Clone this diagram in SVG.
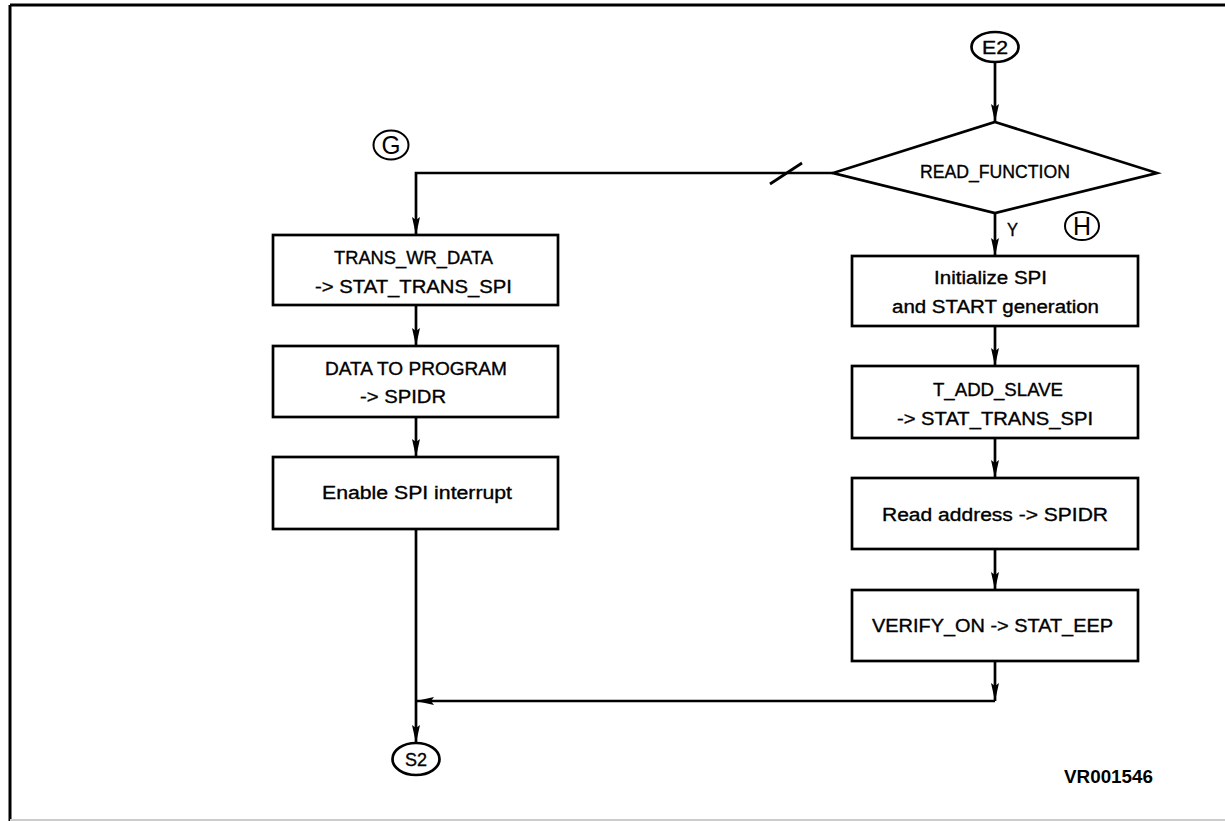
<svg xmlns="http://www.w3.org/2000/svg" width="1225" height="821" viewBox="0 0 1225 821">
<style>
.box{fill:#fff;stroke:#000;stroke-width:2.7}
.ln{fill:none;stroke:#000;stroke-width:2.7}
.t{font-family:"Liberation Sans",Arial,sans-serif;font-size:18px;fill:#000;stroke:#000;stroke-width:0.35}
.big{font-family:"Liberation Sans",Arial,sans-serif;font-size:25px;fill:#000}
.id{font-family:"Liberation Sans",Arial,sans-serif;font-size:18px;font-weight:bold;fill:#000}
</style>
<defs>
<marker id="ah" viewBox="0 0 18 8" refX="18" refY="4" markerWidth="18" markerHeight="8" markerUnits="userSpaceOnUse" orient="auto">
<path d="M0,0 L18,4 L0,8 L3,4 z" fill="#000"/>
</marker>
</defs>
<rect width="1225" height="821" fill="#fff"/>
<g id="border">
<line x1="10" y1="5" x2="1225" y2="5" stroke="#000" stroke-width="3"/>
<line x1="10" y1="5" x2="10" y2="821" stroke="#000" stroke-width="3"/>
<line x1="10" y1="820" x2="1225" y2="820" stroke="#ccc" stroke-width="2"/>
</g>
<g id="connectors">
<path class="ln" d="M995,62 V122" marker-end="url(#ah)"/>
<path class="ln" d="M995,213 V256" marker-end="url(#ah)"/>
<path class="ln" d="M995,326 V366" marker-end="url(#ah)"/>
<path class="ln" d="M995,438 V478" marker-end="url(#ah)"/>
<path class="ln" d="M995,549 V590" marker-end="url(#ah)"/>
<path class="ln" d="M995,661 V701" marker-end="url(#ah)"/>
<path class="ln" d="M995,701 H416" marker-end="url(#ah)"/>
<path class="ln" d="M833,173 H416 V235" marker-end="url(#ah)"/>
<path class="ln" d="M416,305 V346" marker-end="url(#ah)"/>
<path class="ln" d="M416,417 V457" marker-end="url(#ah)"/>
<path class="ln" d="M416,529 V743" marker-end="url(#ah)"/>
<path class="ln" d="M770,184 L802,163" stroke-width="2"/>
<text class="t" x="1007" y="236" textLength="11" lengthAdjust="spacingAndGlyphs">Y</text>
</g>
<g id="E2">
<ellipse cx="995" cy="47" rx="23.5" ry="15" class="box"/>
<text class="t" x="982" y="53.5" textLength="26" lengthAdjust="spacingAndGlyphs">E2</text>
</g>
<g id="READ_FUNCTION">
<polygon class="box" points="995,122 1157,173 995,213 833,173"/>
<text class="t" x="920" y="178" textLength="150" lengthAdjust="spacingAndGlyphs">READ_FUNCTION</text>
</g>
<g id="G">
<ellipse cx="391" cy="145" rx="17.5" ry="14.5" fill="none" stroke="#000" stroke-width="2"/>
<text class="big" x="381.5" y="154" textLength="19" lengthAdjust="spacingAndGlyphs">G</text>
</g>
<g id="H">
<ellipse cx="1082" cy="226" rx="17" ry="14" fill="none" stroke="#000" stroke-width="2"/>
<text class="big" x="1073" y="235" textLength="18" lengthAdjust="spacingAndGlyphs">H</text>
</g>
<g id="init_spi">
<rect class="box" x="852" y="256" width="286" height="70"/>
<text class="t" x="934" y="284" textLength="113" lengthAdjust="spacingAndGlyphs">Initialize SPI</text>
<text class="t" x="892" y="313" textLength="207" lengthAdjust="spacingAndGlyphs">and START generation</text>
</g>
<g id="t_add_slave">
<rect class="box" x="852" y="366" width="286" height="72"/>
<text class="t" x="933" y="396" textLength="130" lengthAdjust="spacingAndGlyphs">T_ADD_SLAVE</text>
<text class="t" x="897" y="425" textLength="196" lengthAdjust="spacingAndGlyphs">-&gt; STAT_TRANS_SPI</text>
</g>
<g id="read_address">
<rect class="box" x="852" y="478" width="286" height="71"/>
<text class="t" x="882" y="520.5" textLength="226" lengthAdjust="spacingAndGlyphs">Read address -&gt; SPIDR</text>
</g>
<g id="verify_on">
<rect class="box" x="852" y="590" width="286" height="71"/>
<text class="t" x="872" y="631.5" textLength="241" lengthAdjust="spacingAndGlyphs">VERIFY_ON -&gt; STAT_EEP</text>
</g>
<g id="trans_wr_data">
<rect class="box" x="273" y="235" width="285" height="70"/>
<text class="t" x="334" y="264" textLength="159" lengthAdjust="spacingAndGlyphs">TRANS_WR_DATA</text>
<text class="t" x="315" y="293" textLength="197" lengthAdjust="spacingAndGlyphs">-&gt; STAT_TRANS_SPI</text>
</g>
<g id="data_to_program">
<rect class="box" x="273" y="346" width="285" height="71"/>
<text class="t" x="325" y="374.5" textLength="182" lengthAdjust="spacingAndGlyphs">DATA TO PROGRAM</text>
<text class="t" x="360" y="402.5" textLength="86" lengthAdjust="spacingAndGlyphs">-&gt; SPIDR</text>
</g>
<g id="enable_spi">
<rect class="box" x="273" y="457" width="285" height="72"/>
<text class="t" x="322" y="499" textLength="190" lengthAdjust="spacingAndGlyphs">Enable SPI interrupt</text>
</g>
<g id="S2">
<ellipse cx="416" cy="759" rx="23.5" ry="16" class="box"/>
<text class="t" x="405" y="765.5" textLength="22" lengthAdjust="spacingAndGlyphs">S2</text>
</g>
<text class="id" x="1064" y="783" textLength="89" lengthAdjust="spacingAndGlyphs">VR001546</text>
</svg>
